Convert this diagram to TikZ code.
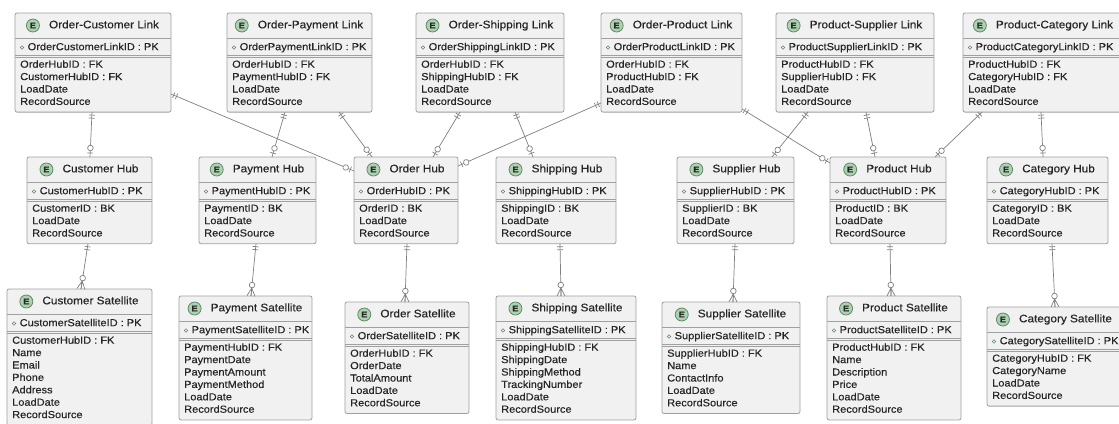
\documentclass[tikz,border=0pt]{standalone}
\usepackage{fontspec}
\setmainfont{Liberation Sans}[FakeStretch=1.08,FakeBold=0.4]
\usetikzlibrary{fit,calc,decorations.markings}
\definecolor{boxfill}{HTML}{F1F1F1}
\definecolor{boxline}{HTML}{A0A0A0}
\definecolor{lnc}{HTML}{808080}
\definecolor{ecf}{HTML}{ADD1B2}
\definecolor{ecd}{HTML}{5E8C62}
\definecolor{txt}{HTML}{262626}
\tikzset{
 ebox/.style={draw=boxline, fill=boxfill, line width=0.8pt, rounded corners=2pt, inner sep=0pt, outer sep=0pt},
 sepl/.style={draw=boxline, line width=0.7pt},
 attr/.style={anchor=west, inner sep=0pt, text height=7.6pt, text depth=2.2pt, font=\fontsize{10.2}{12}\selectfont, text=txt},
 ttl/.style={inner sep=0pt, text height=7.9pt, text depth=2.3pt, font=\fontsize{10.9}{12}\selectfont, text=txt},
 ecirc/.style={circle, draw=ecd, fill=ecf, line width=0.8pt, minimum size=13pt, inner sep=0pt, font=\fontsize{8.5}{8.5}\selectfont\bfseries, text=txt},
 pkc/.style={draw=ecd, line width=0.6pt},
 mk/.style={draw=lnc, line width=0.7pt},
 conn/.style={draw=lnc, line width=0.7pt},
 lzo/.style={conn, postaction={decorate}, decoration={markings,
   mark=at position 3pt with {\draw[mk] (0pt,-3pt) -- (0pt,3pt);},
   mark=at position 6pt with {\draw[mk] (0pt,-3pt) -- (0pt,3pt);},
   mark=at position -9pt with {\draw[mk, fill=white] (0pt,0pt) circle (2.8pt);},
   mark=at position -4pt with {\draw[mk] (0pt,-3pt) -- (0pt,3pt);}}},
 lzm/.style={conn, postaction={decorate}, decoration={markings,
   mark=at position 3pt with {\draw[mk] (0pt,-3pt) -- (0pt,3pt);},
   mark=at position 6pt with {\draw[mk] (0pt,-3pt) -- (0pt,3pt);},
   mark=at position -11pt with {\draw[mk, fill=white] (0pt,0pt) circle (2.8pt);},
   mark=at position -8pt with {\draw[mk] (0pt,0pt) -- (8pt,4pt) (0pt,0pt) -- (8pt,0pt) (0pt,0pt) -- (8pt,-4pt);}}},
}
% #1 name, #2 left, #3 top, #4 right, #5 title, #6 pk, #7 attributes, #8 number of attributes
\newcommand{\erbox}[8]{%
 \pgfmathsetmacro{\eB}{#3+49.5+#8*12.4}%
 \pgfmathsetmacro{\eC}{(#2+#4)/2+11}%
 \node[ebox, fit={(#2,#3) (#4,\eB)}] (#1) {};
 \draw[sepl] (#2,#3+25) -- (#4,#3+25);
 \draw[sepl] (#2,#3+42.3) -- (#4,#3+42.3) (#2,#3+44.7) -- (#4,#3+44.7);
 \node[ttl] (#1-t) at (\eC,#3+12.5) {#5};
 \node[ecirc, anchor=east] (#1-e) at ([xshift=-9pt]#1-t.west) {E};
 \draw[pkc] (#2+7,#3+34.5) circle (1.8pt);
 \node[attr] (#1-pk) at (#2+12.5,#3+34.5) {#6};
 \foreach \a [count=\i] in {#7} {\node[attr] (#1-a\i) at (#2+5,#3+52+\i*12.4-12.4) {\a};}
}
\begin{document}
\begin{tikzpicture}[x=1pt,y=-1pt]
\useasboundingbox (0,0) rectangle (1119,423);
\clip (0,0) rectangle (1119,423);
\fill[white] (0,0) rectangle (1119,423);
% links
\erbox{ocl}{15}{13}{171}{Order-Customer Link}{OrderCustomerLinkID : PK}{OrderHubID : FK,CustomerHubID : FK,LoadDate,RecordSource}{4}
\erbox{opl}{227}{13}{372}{Order-Payment Link}{OrderPaymentLinkID : PK}{OrderHubID : FK,PaymentHubID : FK,LoadDate,RecordSource}{4}
\erbox{osl}{416}{13}{564}{Order-Shipping Link}{OrderShippingLinkID : PK}{OrderHubID : FK,ShippingHubID : FK,LoadDate,RecordSource}{4}
\erbox{opr}{601}{13}{742}{Order-Product Link}{OrderProductLinkID : PK}{OrderHubID : FK,ProductHubID : FK,LoadDate,RecordSource}{4}
\erbox{psl}{776}{13}{934}{Product-Supplier Link}{ProductSupplierLinkID : PK}{ProductHubID : FK,SupplierHubID : FK,LoadDate,RecordSource}{4}
\erbox{pcl}{963}{13}{1124}{Product-Category Link}{ProductCategoryLinkID : PK}{ProductHubID : FK,CategoryHubID : FK,LoadDate,RecordSource}{4}
% hubs
\erbox{ch}{27}{157}{152}{Customer Hub}{CustomerHubID : PK}{CustomerID : BK,LoadDate,RecordSource}{3}
\erbox{ph}{199}{157}{316}{Payment Hub}{PaymentHubID : PK}{PaymentID : BK,LoadDate,RecordSource}{3}
\erbox{oh}{354}{157}{458}{Order Hub}{OrderHubID : PK}{OrderID : BK,LoadDate,RecordSource}{3}
\erbox{sh}{496}{157}{616}{Shipping Hub}{ShippingHubID : PK}{ShippingID : BK,LoadDate,RecordSource}{3}
\erbox{suh}{677}{157}{794}{Supplier Hub}{SupplierHubID : PK}{SupplierID : BK,LoadDate,RecordSource}{3}
\erbox{prh}{830}{157}{946}{Product Hub}{ProductHubID : PK}{ProductID : BK,LoadDate,RecordSource}{3}
\erbox{cah}{987}{157}{1108}{Category Hub}{CategoryHubID : PK}{CategoryID : BK,LoadDate,RecordSource}{3}
% satellites
\erbox{cs}{7}{289}{152}{Customer Satellite}{CustomerSatelliteID : PK}{CustomerHubID : FK,Name,Email,Phone,Address,LoadDate,RecordSource}{7}
\erbox{ps}{179}{296}{312}{Payment Satellite}{PaymentSatelliteID : PK}{PaymentHubID : FK,PaymentDate,PaymentAmount,PaymentMethod,LoadDate,RecordSource}{6}
\erbox{os}{345}{302}{469}{Order Satellite}{OrderSatelliteID : PK}{OrderHubID : FK,OrderDate,TotalAmount,LoadDate,RecordSource}{5}
\erbox{ss}{496}{296}{636}{Shipping Satellite}{ShippingSatelliteID : PK}{ShippingHubID : FK,ShippingDate,ShippingMethod,TrackingNumber,LoadDate,RecordSource}{6}
\erbox{sus}{662}{302}{800}{Supplier Satellite}{SupplierSatelliteID : PK}{SupplierHubID : FK,Name,ContactInfo,LoadDate,RecordSource}{5}
\erbox{prs}{827}{296}{961}{Product Satellite}{ProductSatelliteID : PK}{ProductHubID : FK,Name,Description,Price,LoadDate,RecordSource}{6}
\erbox{cas}{987}{307}{1122}{Category Satellite}{CategorySatelliteID : PK}{CategoryHubID : FK,CategoryName,LoadDate,RecordSource}{4}
% link -> hub connectors
\draw[lzo] ($(ocl.south west)+(77,0)$) -- ($(ch.north west)+(63,0)$);
\draw[lzo] ($(ocl.north east)+(0,81)$) -- ($(oh.north west)+(0,14)$);
\draw[lzo] ($(opl.south west)+(58,0)$) -- ($(ph.north west)+(73,0)$);
\draw[lzo] ($(opl.south west)+(112,0)$) -- ($(oh.north west)+(18,0)$);
\draw[lzo] ($(osl.south west)+(44,0)$) -- ($(oh.north west)+(79,0)$);
\draw[lzo] ($(osl.south west)+(99,0)$) -- ($(sh.north west)+(37,0)$);
\draw[lzo] ($(opr.north west)+(0,90)$) -- ($(oh.north east)+(0,9)$);
\draw[lzo] ($(opr.north east)+(0,96)$) -- ($(prh.north west)+(0,6)$);
\draw[lzo] ($(psl.south west)+(32,0)$) -- ($(suh.north west)+(95,0)$);
\draw[lzo] ($(psl.south west)+(90,0)$) -- ($(prh.north west)+(45,0)$);
\draw[lzo] ($(pcl.south west)+(19,0)$) -- ($(prh.north west)+(105,0)$);
\draw[lzo] ($(pcl.south west)+(78,0)$) -- ($(cah.north west)+(56,0)$);
% hub -> satellite connectors
\draw[lzm] ($(ch.south west)+(61,0)$) -- ($(cs.north west)+(74,0)$);
\draw[lzm] ($(ph.south west)+(57,0)$) -- ($(ps.north west)+(72,0)$);
\draw[lzm] ($(oh.south west)+(53,0)$) -- ($(os.north west)+(60,0)$);
\draw[lzm] ($(sh.south west)+(64,0)$) -- ($(ss.north west)+(65,0)$);
\draw[lzm] ($(suh.south west)+(58,0)$) -- ($(sus.north west)+(71,0)$);
\draw[lzm] ($(prh.south west)+(60,0)$) -- ($(prs.north west)+(64,0)$);
\draw[lzm] ($(cah.south west)+(65,0)$) -- ($(cas.north west)+(68,0)$);
\end{tikzpicture}
\end{document}
